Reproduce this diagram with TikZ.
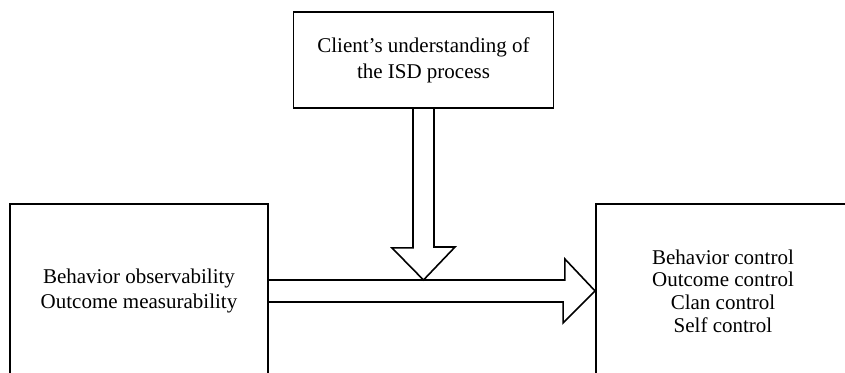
\documentclass[tikz,border=0pt]{standalone}
\usepackage{fontspec}
\setmainfont{Liberation Serif}
\usepackage{tikz}

\begin{document}
\begin{tikzpicture}[x=0.5pt,y=-0.5pt,
	box/.style={shape=rectangle,draw=black,line width=0.9pt,align=center,inner sep=0pt},
	fat/.style={draw=black,line width=0.8pt,line join=miter}]
	\useasboundingbox (0,0) rectangle (845,373);
	\clip (0,0) rectangle (845,373);
	\node[box,minimum width=130pt,minimum height=48pt,font={\fontsize{10.5}{13}\selectfont}] (client) at (423.5,60) {Client's understanding of\\the ISD process};
	\node[box,minimum width=129pt,minimum height=87pt,font={\fontsize{10.5}{12.8}\selectfont}] (factors) at (139,291) {Behavior observability\\Outcome measurability};
	\node[box,minimum width=127pt,minimum height=87pt,font={\fontsize{10.5}{11.3}\selectfont}] (controls) at (723,291) {Behavior control\\Outcome control\\Clan control\\Self control};
	\coordinate (vtip) at (423.5,280);
	\draw[fat] ([xshift=-5.25pt]client.south) -- ++(0,139) -- ++(-21,0) -- (vtip) -- ++(31.5,-33) -- ++(-21,0) -- ([xshift=5.25pt]client.south);
	\draw[fat] ([yshift=5.5pt]factors.east) -- ++(296,0) -- ++(0,-21) -- (controls.west) -- ++(-32,32) -- ++(0,-21) -- ([yshift=-5.5pt]factors.east);
	%\draw[color=gray] (vtip) -- (controls.west);
\end{tikzpicture}
\end{document}
